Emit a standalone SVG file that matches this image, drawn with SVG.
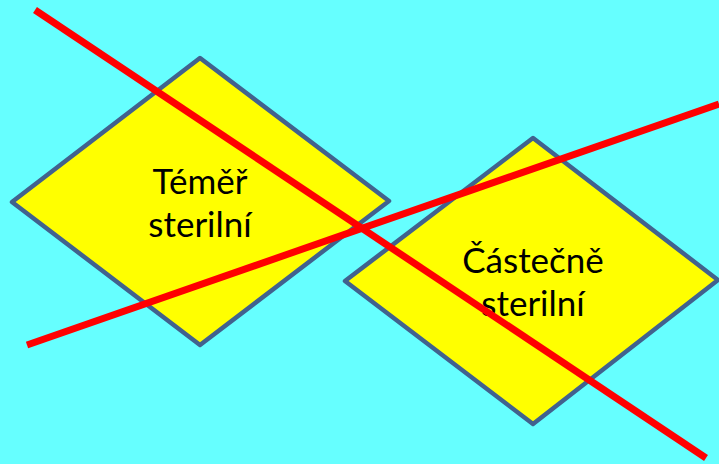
<svg xmlns="http://www.w3.org/2000/svg" width="719" height="464" viewBox="0 0 719 464">
  <style>
    .diamond { fill: #FFFF00; stroke: #41628E; stroke-width: 4.5; stroke-linejoin: round; }
    .label { font-family: Lato, "Open Sans", "Noto Sans", sans-serif; font-size: 35px; fill: #000000; text-anchor: middle; }
    .strike { stroke: #FF0000; stroke-width: 7; fill: none; }
  </style>
  <rect width="719" height="464" fill="#66FFFF"/>

  <g id="node-temer-sterilni">
    <polygon class="diamond" points="200,58 389,201 200,345 12,202"/>
    <text class="label" x="200" y="194">Téměř</text>
    <text class="label" x="200" y="237">sterilní</text>
  </g>

  <g id="node-castecne-sterilni">
    <polygon class="diamond" points="533,138 718,280 533,424 345,281"/>
    <text class="label" x="533" y="273">Částečně</text>
    <text class="label" x="533" y="316">sterilní</text>
  </g>

  <g id="connectors">
    <line class="strike" x1="35" y1="10" x2="706" y2="458"/>
    <line class="strike" x1="27" y1="345" x2="719" y2="104"/>
  </g>
</svg>
